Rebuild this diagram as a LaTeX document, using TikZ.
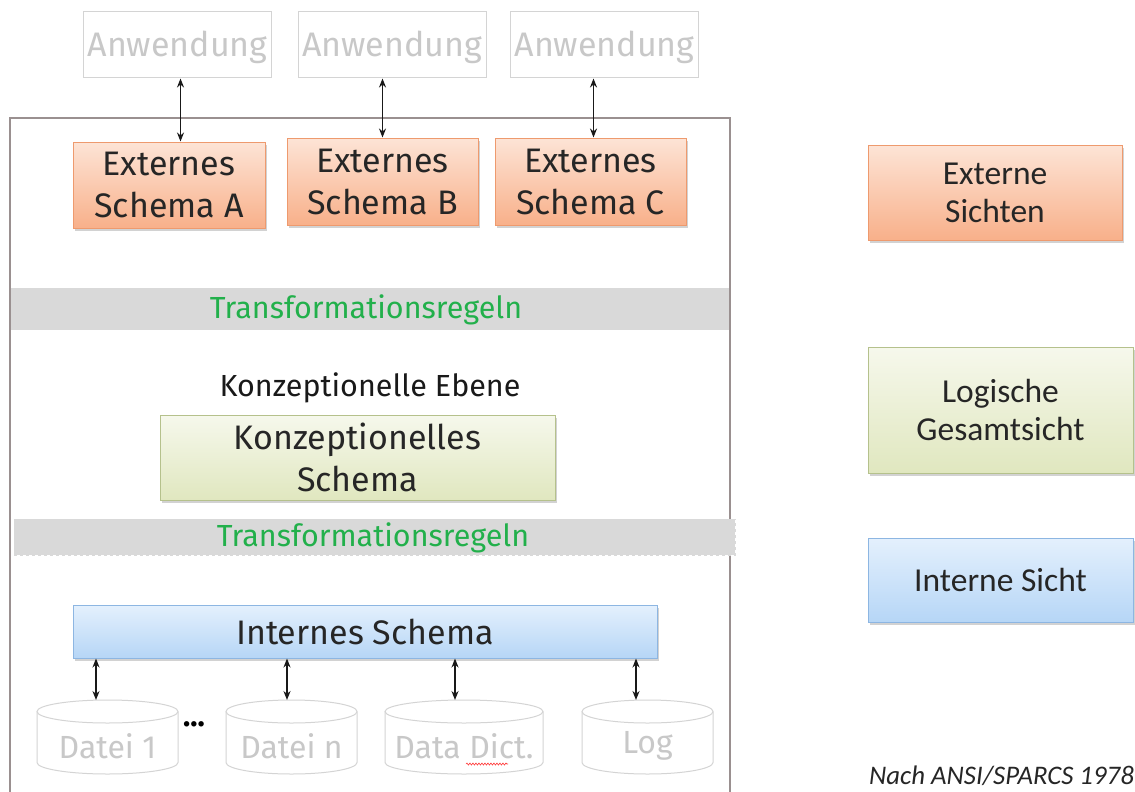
\documentclass[tikz,border=0pt]{standalone}
\usepackage{fontspec}
\setmainfont{Fira Sans}
\newfontfamily\calib{Carlito}
\usetikzlibrary{shadows,arrows.meta,decorations.pathmorphing,calc}
\definecolor{oT}{HTML}{FDE4D6}
\definecolor{oB}{HTML}{F8B08A}
\definecolor{oD}{HTML}{EE9A6E}
\definecolor{gT}{HTML}{F6F8EC}
\definecolor{gB}{HTML}{E0E7BF}
\definecolor{gD}{HTML}{B5C18C}
\definecolor{bT}{HTML}{E4F0FD}
\definecolor{bB}{HTML}{B6D6F6}
\definecolor{bD}{HTML}{8DB6E2}
\definecolor{trg}{HTML}{22B04B}
\definecolor{pale}{HTML}{C8C8C8}
\definecolor{paleD}{HTML}{D4D4D4}
\definecolor{frameC}{HTML}{9A9090}
\definecolor{band}{HTML}{D9D9D9}
\begin{document}
\begin{tikzpicture}[x=1pt,y=1pt,
  sbox/.style={rectangle, inner sep=0pt, align=center, text=black!85,
    font=\fontsize{34}{42}\selectfont,
    drop shadow={opacity=0.35, shadow xshift=1.5pt, shadow yshift=-2.5pt}},
  orangebox/.style={sbox, draw=oD, line width=1pt, top color=oT, bottom color=oB},
  greenbox/.style={sbox, draw=gD, line width=1pt, top color=gT, bottom color=gB},
  bluebox/.style={sbox, draw=bD, line width=1pt, top color=bT, bottom color=bB},
  rbox/.style={font=\calib\fontsize{33.5}{38}\selectfont},
  appbox/.style={rectangle, draw=paleD, line width=1pt, text=pale, inner sep=0pt,
    minimum width=188, minimum height=66, font=\fontsize{34}{40}\selectfont},
  cyltext/.style={rectangle, inner sep=0pt, text=pale, font=\fontsize{32}{36}\selectfont},
  biarrow/.style={{Stealth[length=9pt,width=7pt]}-{Stealth[length=9pt,width=7pt]}, line width=1.5pt, black!90},
  bandtext/.style={text=trg, font=\fontsize{30.5}{34}\selectfont},
  cylline/.style={draw=paleD, line width=1pt}
]
\useasboundingbox (0,0) rectangle (1135,-792);
\fill[white] (0,0) rectangle (1135,-792);

% outer frame
\draw[frameC, line width=2.2pt] (10,-800) -- (10,-118) -- (730,-118) -- (730,-800);

% applications
\node[appbox, text height=28pt, text depth=4pt] (an1) at (177.5,-45) {Anwendung};
\node[appbox, text height=28pt, text depth=4pt] (an2) at (392,-45) {Anwendung};
\node[appbox, text height=28pt, text depth=4pt] (an3) at (604.5,-45) {Anwendung};

% external schemas
\node[orangebox, minimum width=192, minimum height=86] (ea) at (169,-185) {Externes\\Schema A};
\node[orangebox, minimum width=191, minimum height=87] (eb) at (382.5,-181.5) {Externes\\Schema B};
\node[orangebox, minimum width=191, minimum height=87] (ec) at (590.5,-181.5) {Externes\\Schema C};

\coordinate (c1) at ($(an1.south)+(3,0)$);
\coordinate (c3) at ($(ec.north)+(3,0)$);
\draw[biarrow] (c1) -- (c1 |- ea.north);
\draw[biarrow] (eb.north |- an2.south) -- (eb.north);
\draw[biarrow] (c3 |- an3.south) -- (c3);

% band 1
\fill[band] (11,-288) rectangle (729,-330);
\draw[white!85!black, dashed, line width=0.8pt] (11,-288) -- (729,-288);
\node[bandtext] (tr1) at (366,-310) {Transformationsregeln};

% conceptual level
\node[font=\fontsize{30.5}{34}\selectfont, text=black!90] (ke) at (370,-388) {Konzeptionelle Ebene};
\node[greenbox, minimum width=395, minimum height=85] (ks) at (357.5,-457.5) {Konzeptionelles\\Schema};

% band 2
\fill[band] (14,-519) rectangle (735,-555);
\draw[white!85!black, dashed, line width=0.8pt] (14,-555) -- (735,-555) -- (735,-519);
\node[bandtext] (tr2) at (373,-538) {Transformationsregeln};

% internal schema
\node[bluebox, minimum width=584, minimum height=53] (is) at (365,-631.5) {Internes Schema};

% cylinders
\foreach \nm/\cx/\w/\dx/\txt in {d1/107.5/141/-11.5/Datei 1, dn/291.5/131/-4.5/Datei n, dd/464/158/-9/Data Dict., lg/647.5/131/-11.5/Log}{
  \draw[cylline] (\cx-\w/2,-711.5) -- (\cx-\w/2,-762.5)
     arc[start angle=180, end angle=360, x radius=\w/2, y radius=11.5]
     -- (\cx+\w/2,-711.5);
  \draw[cylline] (\cx,-711.5) ellipse[x radius=\w/2, y radius=11.5];
  \coordinate (\nm) at (\cx+\dx,-700);
  \node[cyltext] (\nm t) at (\cx,-746) {\txt};
}
\node[font=\bfseries\fontsize{30}{30}\selectfont] (dots) at (194,-724) {...};
\draw[red!80, line width=0.6pt, decorate, decoration={snake, amplitude=1pt, segment length=3pt}] (466,-764) -- (508,-764);

\draw[biarrow] (d1 |- is.south) -- (d1);
\draw[biarrow] (dn |- is.south) -- (dn);
\draw[biarrow] (dd |- is.south) -- (dd);
\draw[biarrow] (lg |- is.south) -- (lg);

% legend
\node[orangebox, rbox, minimum width=254, minimum height=95] (lx) at (995,-192.5) {Externe\\Sichten};
\node[greenbox, rbox, minimum width=265, minimum height=126] (ll) at (1000.5,-410) {Logische\\Gesamtsicht};
\node[bluebox, rbox, minimum width=265, minimum height=84] (li) at (1000.5,-580) {Interne Sicht};

\node[anchor=east, inner sep=0pt, font=\calib\itshape\fontsize{26.8}{28}\selectfont, text=black!85] (src) at (1134,-776) {Nach ANSI/SPARCS 1978};
\end{tikzpicture}
\end{document}
